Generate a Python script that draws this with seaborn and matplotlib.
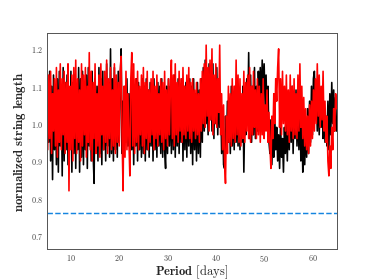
import numpy as np
import pandas as pd
import seaborn as sns
import matplotlib.pyplot as plt

# period grid, 0.2 day steps
period = np.arange(5, 65.01, 0.2)

# red curve (10 values = 2 days per row)
red = [1.10, 0.93, 1.13, 0.96, 1.14, 0.92, 1.08, 0.98, 1.12, 0.94,
       1.15, 0.91, 1.09, 0.95, 1.16, 0.93, 1.12, 0.97, 1.14, 0.92,
       1.11, 0.95, 1.16, 0.82, 1.10, 0.93, 1.13, 0.90, 1.15, 0.96,
       1.17, 0.92, 1.12, 0.95, 1.09, 0.90, 1.16, 0.94, 1.13, 0.97,
       1.15, 0.91, 1.10, 0.95, 1.19, 0.93, 1.14, 0.90, 1.11, 0.96,
       1.16, 0.92, 1.08, 0.94, 1.13, 0.91, 1.16, 0.97, 1.10, 0.93,
       1.14, 0.95, 1.17, 0.92, 1.12, 0.96, 1.15, 0.93, 1.09, 0.94,
       1.16, 0.92, 1.13, 0.95, 1.11, 0.94, 1.14, 1.18, 0.96, 0.82,
       1.10, 0.91, 1.14, 0.93, 1.08, 0.96, 0.86, 1.12, 1.19, 0.94,
       1.16, 0.92, 1.12, 0.95, 1.14, 0.93, 1.10, 0.97, 1.13, 0.94,
       1.15, 0.92, 1.11, 0.96, 1.14, 0.93, 1.09, 0.95, 1.12, 0.97,
       1.14, 0.93, 1.10, 0.96, 1.13, 0.94, 1.08, 0.97, 1.12, 0.95,
       1.11, 0.93, 1.14, 0.96, 1.09, 0.94, 1.12, 0.97, 1.10, 1.17,
       0.96, 1.13, 0.94, 1.16, 0.97, 1.11, 0.95, 1.14, 0.98, 1.12,
       0.95, 1.15, 0.97, 1.10, 0.96, 1.13, 0.98, 1.15, 0.96, 1.11,
       0.95, 1.12, 0.98, 1.09, 0.96, 1.11, 0.97, 1.08, 0.95, 1.12,
       0.98, 1.14, 1.00, 1.16, 0.99, 1.21, 1.02, 1.15, 0.98, 1.17,
       1.01, 1.20, 0.97, 1.13, 1.00, 1.16, 0.99, 1.12, 1.03, 1.21,
       0.97, 1.08, 0.93, 1.05, 0.90, 0.84, 1.02, 0.92, 1.10, 0.95,
       1.08, 0.94, 1.12, 0.96, 1.10, 0.95, 1.17, 0.97, 1.13, 0.95,
       1.12, 0.94, 1.08, 0.96, 1.14, 0.95, 1.11, 0.98, 1.13, 0.96,
       1.15, 0.95, 1.10, 0.97, 1.14, 0.99, 1.09, 0.96, 1.12, 0.97,
       1.10, 0.95, 1.08, 0.97, 1.12, 0.96, 1.05, 0.98, 1.09, 0.95,
       1.03, 0.94, 0.88, 1.02, 0.96, 1.08, 1.00, 1.12, 1.06, 1.15,
       1.20, 0.99, 1.12, 0.97, 1.14, 1.00, 1.10, 0.98, 1.13, 0.97,
       1.09, 0.95, 1.13, 0.98, 1.10, 0.96, 1.12, 0.97, 1.08, 0.96,
       1.13, 0.98, 1.16, 0.99, 1.10, 0.96, 1.07, 0.94, 1.04, 0.93,
       1.02, 0.92, 1.05, 0.94, 1.06, 0.96, 1.09, 0.98, 1.12, 1.00,
       1.16, 1.02, 1.13, 0.99, 1.10, 1.01, 1.14, 0.98, 1.06, 0.95,
       1.02, 0.90, 0.86, 0.94, 0.88, 0.99, 0.93, 1.04, 0.98, 1.08,
       1.04]

# black curve
black = [0.88, 1.12, 0.95, 1.14, 0.90, 1.10, 0.85, 1.13, 0.93, 1.08,
         0.89, 1.12, 0.87, 1.14, 0.94, 1.10, 0.86, 1.15, 0.90, 1.11,
         0.93, 1.13, 0.89, 1.09, 0.94, 1.14, 0.87, 1.11, 0.92, 1.13,
         0.88, 1.10, 0.93, 1.15, 0.87, 1.12, 0.91, 1.14, 0.89, 1.09,
         0.93, 1.13, 0.88, 1.15, 0.94, 1.11, 0.90, 1.14, 0.92, 0.84,
         1.12, 0.93, 1.10, 0.90, 1.15, 0.92, 1.12, 0.89, 1.14, 0.93,
         1.09, 0.90, 1.16, 0.94, 1.11, 0.91, 1.20, 0.92, 1.12, 0.90,
         1.15, 0.93, 1.11, 0.91, 1.14, 0.95, 1.10, 1.20, 0.92, 1.06,
         0.93, 1.10, 0.95, 1.12, 0.94, 1.08, 0.91, 1.11, 0.93, 1.09,
         0.89, 1.10, 0.94, 1.12, 0.90, 1.11, 0.93, 1.09, 0.91, 1.12,
         0.92, 1.10, 0.90, 1.12, 0.93, 1.09, 0.91, 1.11, 0.94, 1.10,
         0.90, 1.12, 0.93, 1.08, 0.91, 1.11, 0.94, 1.10, 0.92, 1.12,
         0.91, 1.08, 0.93, 0.88, 1.10, 0.92, 1.12, 0.94, 1.10, 0.92,
         1.11, 0.93, 1.13, 0.91, 1.10, 0.94, 1.12, 0.92, 1.09, 0.95,
         1.12, 0.90, 1.10, 0.93, 1.11, 0.91, 1.09, 0.94, 1.12, 0.92,
         1.10, 0.89, 1.12, 0.93, 1.08, 0.90, 1.11, 0.92, 1.09, 0.91,
         1.12, 0.95, 1.15, 0.98, 1.17, 1.00, 1.13, 0.97, 1.16, 1.01,
         1.14, 0.98, 1.16, 0.96, 1.12, 1.00, 1.15, 0.97, 1.11, 0.99,
         1.08, 0.92, 1.04, 0.89, 0.88, 1.02, 0.93, 1.06, 0.95, 1.05,
         0.92, 1.10, 0.94, 1.08, 0.93, 1.10, 0.95, 1.07, 0.94, 1.09,
         0.93, 1.06, 0.95, 1.10, 0.87, 1.03, 0.97, 1.12, 1.00, 1.19,
         0.96, 1.13, 0.95, 1.10, 0.97, 1.15, 0.96, 1.10, 0.98, 1.14,
         1.06, 1.15, 1.04, 1.17, 1.08, 1.16, 1.05, 1.13, 1.02, 1.10,
         0.95, 0.92, 1.01, 0.89, 0.98, 0.91, 1.02, 0.93, 0.99, 0.90,
         0.97, 0.88, 1.00, 0.91, 0.96, 0.87, 0.99, 0.92, 1.00, 0.90,
         1.04, 0.93, 1.08, 0.95, 1.10, 0.92, 1.06, 0.96, 1.09, 0.94,
         1.05, 0.93, 1.08, 0.90, 1.02, 0.87, 0.97, 0.89, 1.00, 0.91,
         1.04, 0.92, 1.06, 0.95, 1.10, 0.97, 1.12, 1.14, 1.03, 1.09,
         0.98, 1.10, 0.97, 1.06, 0.99, 1.08, 0.96, 1.04, 0.95, 1.02,
         0.94, 1.06, 0.93, 1.08, 0.97, 1.11, 1.00, 1.09, 0.98, 1.07,
         0.98]

threshold = 0.76

df = pd.DataFrame({'period': period, 'red': red, 'black': black})

sns.set_style('white')
plt.rcParams['font.family'] = 'serif'
plt.rcParams['font.serif'] = ['cmr10', 'DejaVu Serif']
plt.rcParams['mathtext.fontset'] = 'cm'
plt.rcParams['axes.formatter.use_mathtext'] = True

fig, ax = plt.subplots(figsize=(6.4, 4.8), dpi=374 / 6.4)
sns.lineplot(data=df, x='period', y='black', color='black', lw=2.0, ax=ax)
sns.lineplot(data=df, x='period', y='red', color='#ff0000', lw=2.0, ax=ax)
ax.axhline(threshold, color='#1585e0', ls='--', lw=1.8)

ax.set_xlim(5, 65)
ax.set_ylim(0.664, 1.242)
ax.set_xticks([10, 20, 30, 40, 50, 60])
ax.set_yticks([0.7, 0.8, 0.9, 1.0, 1.1, 1.2])
ax.tick_params(labelsize=10, colors='#444444', pad=1)
ax.set_xlabel(r'$\mathbf{Period}$ [days]', fontsize=15.5, labelpad=-1)
ax.set_ylabel(r'$\mathbf{normalized\ string\ length}$', fontsize=16)
for s in ax.spines.values():
    s.set_color('#555555')
    s.set_linewidth(1.2)

fig.savefig('out.png')
